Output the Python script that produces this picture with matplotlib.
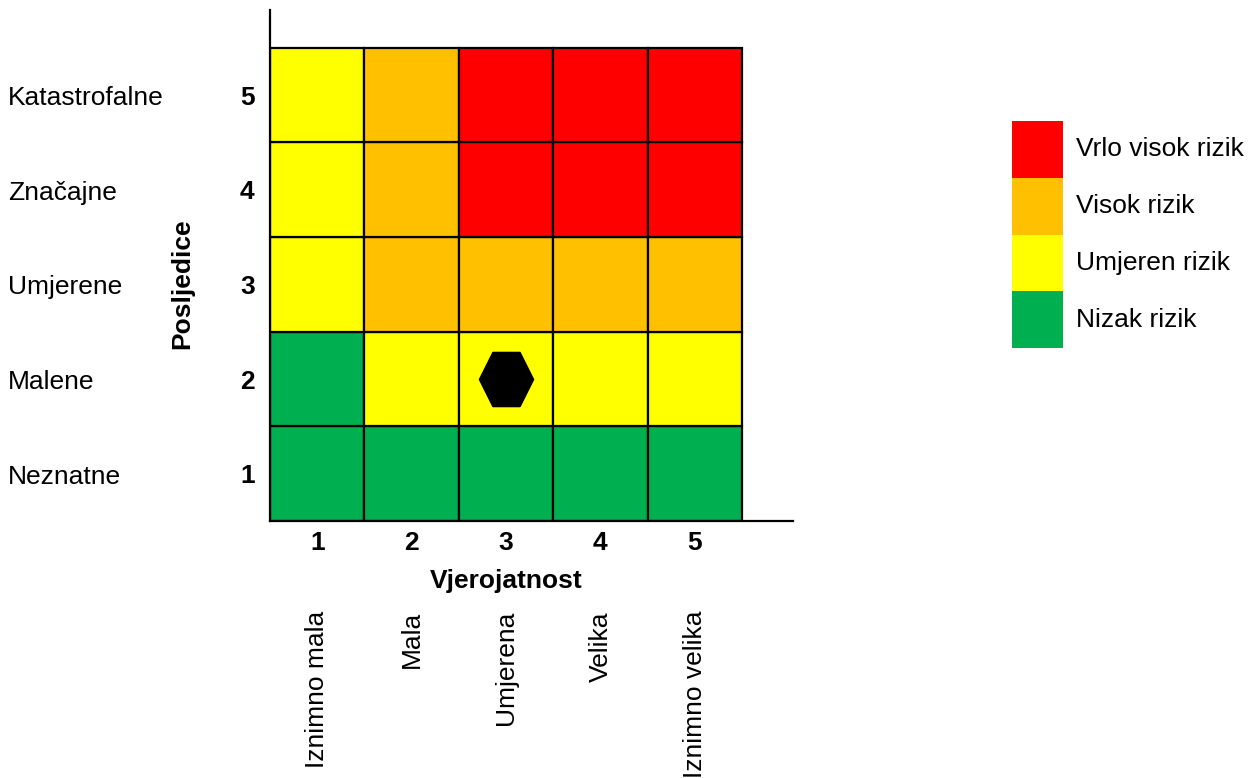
import matplotlib.pyplot as plt
import matplotlib.transforms as mtransforms
from matplotlib.path import Path

plt.rcParams['font.family'] = ['Liberation Sans', 'DejaVu Sans']

# risk level per cell: rows = consequence 1..5, cols = probability 1..5
# 0 = low, 1 = moderate, 2 = high, 3 = very high
risk_grid = [
    [0, 0, 0, 0, 0],
    [0, 1, 1, 1, 1],
    [1, 2, 2, 2, 2],
    [1, 2, 3, 3, 3],
    [1, 2, 3, 3, 3],
]
risk_colors = ['#00B050', '#FFFF00', '#FFC000', '#FF0000']
risk_names = ['Nizak rizik', 'Umjeren rizik', 'Visok rizik', 'Vrlo visok rizik']

levels = [1, 2, 3, 4, 5]
consequence_names = ['Neznatne', 'Malene', 'Umjerene', 'Značajne', 'Katastrofalne']
probability_names = ['Iznimno mala', 'Mala', 'Umjerena', 'Velika', 'Iznimno velika']

# current assessment
point_prob = 3
point_cons = 2

FS = 19

fig = plt.figure(figsize=(12.5, 7.78), dpi=100)
ax = fig.add_axes([270 / 1250, 1 - 521 / 778, 523 / 1250, 511 / 778])

for r, row in enumerate(risk_grid):
    for c, lvl in enumerate(row):
        ax.add_patch(plt.Rectangle((levels[c] - 0.5, levels[r] - 0.5), 1, 1,
                                   facecolor=risk_colors[lvl], edgecolor='black',
                                   linewidth=1.6, zorder=1))

# hexagon a bit taller than a regular one, like in the original
hexagon = Path([(-1, 0), (-0.5, 1), (0.5, 1), (1, 0), (0.5, -1), (-0.5, -1), (-1, 0)],
               [Path.MOVETO] + [Path.LINETO] * 5 + [Path.CLOSEPOLY])
ax.plot([point_prob], [point_cons], marker=hexagon, markersize=39, color='black',
        linestyle='none', zorder=3)

ax.set_xlim(0.5, 6.04)
ax.set_ylim(0.5, 5.9)
for s in ['top', 'right']:
    ax.spines[s].set_visible(False)
for s in ['left', 'bottom']:
    ax.spines[s].set_linewidth(1.6)
    ax.spines[s].set_zorder(4)

ax.set_xticks(levels)
ax.set_yticks(levels)
ax.set_xticklabels([str(v) for v in levels], fontsize=FS, fontweight='bold')
ax.set_yticklabels([str(v) for v in levels], fontsize=FS, fontweight='bold')
ax.tick_params(axis='x', length=0, pad=7)
ax.tick_params(axis='y', length=0, pad=11)

ax.set_xlabel('Vjerojatnost', fontsize=FS, fontweight='bold')
ax.xaxis.set_label_coords(0.451, -0.093)
ax.set_ylabel('Posljedice', fontsize=FS, fontweight='bold')
ax.yaxis.set_label_coords(-0.145, 0.465)

# consequence names on the left
trans_y = mtransforms.blended_transform_factory(fig.transFigure, ax.transData)
for v, name in zip(levels, consequence_names):
    ax.text(8 / 1250, v - 0.03, name, transform=trans_y, fontsize=FS,
            ha='left', va='center')

# probability names below, rotated
trans_x = mtransforms.blended_transform_factory(ax.transData, fig.transFigure)
for v, name in zip(levels, probability_names):
    ax.text(v, 1 - 611 / 778, name, transform=trans_x, fontsize=FS,
            rotation=90, ha='center', va='top', clip_on=False)

# legend
lax = fig.add_axes([1012 / 1250, 1 - 348 / 778, 238 / 1250, 227 / 778])
lax.barh(range(len(risk_colors)), [1] * len(risk_colors), height=1,
         left=0, color=risk_colors)
for i, name in enumerate(risk_names):
    lax.text(1.25, i, name, fontsize=FS, ha='left', va='center', clip_on=False)
lax.set_xlim(0, 238 / 51)
lax.set_ylim(-0.5, 3.5)
lax.axis('off')

fig.savefig('out.png', dpi=100)
